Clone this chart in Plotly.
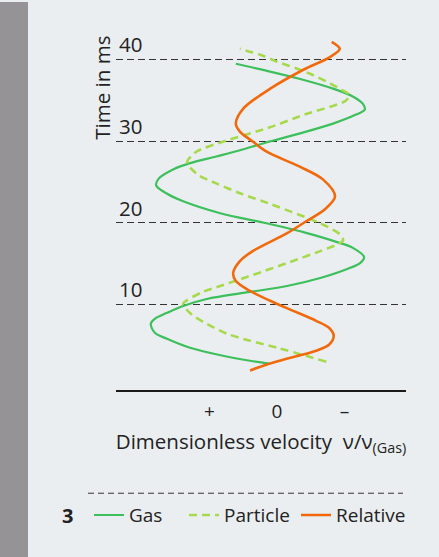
import plotly.graph_objects as go

W, H = 439, 557

# ---- data (time in ms, dimensionless velocity; + is left) ----
gas_t = [2.78, 3.14, 3.75, 4.73, 5.82, 6.55, 7.65, 8.26, 8.99, 9.84, 10.69, 11.55, 12.27, 13.25,
         14.35, 15.08, 15.81, 16.91, 17.64, 18.86, 19.95, 21.17, 22.63, 23.61, 24.58, 25.43, 26.53,
         27.26, 28.11, 28.84, 29.82, 30.91, 32.13, 33.23, 33.84, 34.57, 35.42, 36.40, 37.61, 38.60,
         39.44]
gas_v = [0.10, 0.40, 0.80, 1.29, 1.63, 1.81, 1.87, 1.81, 1.63, 1.39, 1.04, 0.40, -0.15, -0.64,
         -1.04, -1.23, -1.29, -1.13, -0.89, -0.39, 0.16, 0.84, 1.39, 1.64, 1.79, 1.75, 1.54,
         1.30, 0.90, 0.56, 0.16, -0.33, -0.83, -1.17, -1.30, -1.27, -1.13, -0.83, -0.33, 0.16,
         0.61]

particle_t = [3.02, 4.73, 5.58, 6.43, 7.65, 8.75, 10.09, 11.55, 12.28, 13.62, 15.08, 16.54, 17.39,
              17.88, 18.61, 19.95, 22.63, 23.61, 24.82, 25.80, 26.89, 27.50, 28.72, 30.18, 31.52,
              33.23, 34.93, 35.66, 36.39, 37.25, 38.22, 38.83, 39.68, 40.54, 41.27]
particle_v = [-0.73, 0.00, 0.40, 0.74, 1.04, 1.26, 1.39, 1.10, 0.84, 0.36, -0.15, -0.64, -0.90,
              -0.98, -0.93, -0.64, 0.21, 0.55, 0.90, 1.16, 1.30, 1.33, 1.19, 0.70, 0.16,
              -0.41, -1.02, -1.07, -0.93, -0.74, -0.49, -0.30, -0.01, 0.25, 0.55]

relative_t = [1.95, 2.66, 3.27, 4.37, 5.10, 6.19, 7.17, 8.02, 9.24, 10.09, 11.67, 12.89, 13.86,
              15.32, 16.54, 18.73, 20.07, 21.65, 23.24, 25.31, 26.89, 28.72, 29.94, 31.15, 32.13,
              33.96, 36.40, 38.71, 40.29, 41.27, 42.12]
relative_v = [0.40, 0.16, -0.09, -0.58, -0.77, -0.84, -0.77, -0.58, -0.24, 0.00, 0.40, 0.61, 0.65,
              0.55, 0.36, -0.15, -0.41, -0.71, -0.86, -0.68, -0.33, 0.16, 0.36, 0.55, 0.61, 0.50,
              0.10, -0.39, -0.79, -0.93, -0.81]

y_ticks = [10, 20, 30, 40]
x_tickvals = [1, 0, -1]
x_ticktext = ["+", "0", "–"]

FONT = "Open Sans"
TXT = "#222222"
BG = "#ebeef1"


def px_x(p):
    return p / W


def px_y(p):
    return (H - p) / H


fig = go.Figure()
fig.add_trace(go.Scatter(x=gas_v, y=gas_t, mode="lines", name="Gas", legend="legend",
                         line=dict(color="#3dbf5c", width=2.2, shape="spline", smoothing=0.9)))
fig.add_trace(go.Scatter(x=particle_v, y=particle_t, mode="lines", name="Particle", legend="legend2",
                         line=dict(color="#a6da4c", width=2.6, dash="8px,5px", shape="spline",
                                   smoothing=0.7)))
fig.add_trace(go.Scatter(x=relative_v, y=relative_t, mode="lines", name="Relative", legend="legend3",
                         line=dict(color="#f06a0c", width=2.6, shape="spline", smoothing=0.9)))

leg_common = dict(orientation="h", xanchor="left", y=px_y(515), yanchor="middle",
                  font=dict(size=19, family=FONT, color=TXT), bgcolor="rgba(0,0,0,0)",
                  itemwidth=30)

fig.update_layout(
    width=W, height=H,
    margin=dict(l=0, r=0, t=0, b=0),
    paper_bgcolor=BG, plot_bgcolor=BG,
    font=dict(family=FONT, color=TXT, size=19),
    showlegend=True,
    hovermode=False,
    legend=dict(x=px_x(89), **leg_common),
    legend2=dict(x=px_x(184), **leg_common),
    legend3=dict(x=px_x(296), **leg_common),
    xaxis=dict(domain=[px_x(116), px_x(406)], range=[2.385, -1.911],
               tickvals=x_tickvals, ticktext=x_ticktext, showgrid=False, zeroline=False,
               showline=True, linecolor="#1a1a1a", linewidth=2, ticks="outside", ticklen=4,
               tickcolor="rgba(0,0,0,0)",
               tickfont=dict(size=19, family=FONT, color=TXT),
               title=dict(text="Dimensionless velocity  ν/ν<sub>(Gas)</sub>",
                          font=dict(size=20.5, family=FONT, color=TXT), standoff=11)),
    yaxis=dict(domain=[px_y(389), px_y(30)], range=[-0.39, 43.34],
               tickvals=y_ticks, showgrid=True, gridcolor="#333333", gridwidth=1,
               griddash="7px,4px", zeroline=False, showline=False, ticks="",
               ticklabelposition="inside top", ticklabeloverflow="allow",
               tickfont=dict(size=20.5, family=FONT, color=TXT)),
    shapes=[
        dict(type="rect", xref="paper", yref="paper", x0=0, x1=px_x(28), y0=0, y1=1,
             fillcolor="#959395", line=dict(width=0), layer="below"),
        dict(type="line", xref="paper", yref="paper", x0=px_x(88), x1=px_x(403),
             y0=px_y(493), y1=px_y(493), line=dict(color="#333333", width=1, dash="6px,4px")),
    ],
    annotations=[
        dict(text="Time in ms", textangle=-90, xref="paper", yref="paper",
             x=px_x(102), y=px_y(86), showarrow=False, xanchor="center", yanchor="middle",
             font=dict(size=20.5, family=FONT, color=TXT)),
        dict(text="<b>3</b>", xref="paper", yref="paper", x=px_x(67), y=px_y(515),
             showarrow=False, xanchor="center", yanchor="middle",
             font=dict(size=20, family=FONT, color=TXT)),
    ],
)

fig.write_html("out.html", config={"displayModeBar": False},
               post_script="document.body.style.margin='0';")
